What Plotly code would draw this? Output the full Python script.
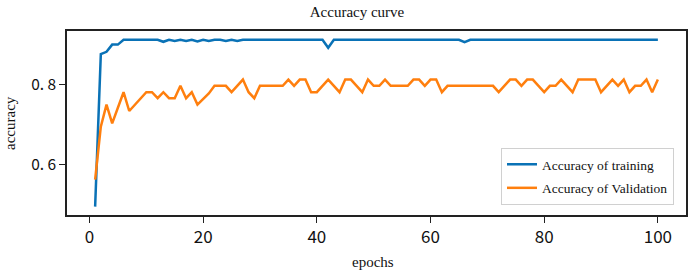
import plotly.graph_objects as go

epochs = list(range(1, 101))

train_acc = [
    0.495, 0.876, 0.882, 0.900, 0.900, 0.912, 0.912, 0.912, 0.912, 0.912,
    0.912, 0.912, 0.907, 0.912, 0.909, 0.912, 0.909, 0.912, 0.908, 0.912,
    0.909, 0.912, 0.912, 0.909, 0.912, 0.909, 0.912, 0.912, 0.912, 0.912,
    0.912, 0.912, 0.912, 0.912, 0.912, 0.912, 0.912, 0.912, 0.912, 0.912,
    0.912, 0.892, 0.912, 0.912, 0.912, 0.912, 0.912, 0.912, 0.912, 0.912,
    0.912, 0.912, 0.912, 0.912, 0.912, 0.912, 0.912, 0.912, 0.912, 0.912,
    0.912, 0.912, 0.912, 0.912, 0.912, 0.906, 0.912, 0.912, 0.912, 0.912,
    0.912, 0.912, 0.912, 0.912, 0.912, 0.912, 0.912, 0.912, 0.912, 0.912,
    0.912, 0.912, 0.912, 0.912, 0.912, 0.912, 0.912, 0.912, 0.912, 0.912,
    0.912, 0.912, 0.912, 0.912, 0.912, 0.912, 0.912, 0.912, 0.912, 0.912,
]

val_acc = [
    0.5625, 0.695, 0.750, 0.703, 0.742, 0.781, 0.734, 0.750, 0.766, 0.781,
    0.781, 0.766, 0.781, 0.766, 0.766, 0.797, 0.766, 0.781, 0.750, 0.763,
    0.778, 0.797, 0.797, 0.797, 0.781, 0.797, 0.8125, 0.781, 0.766, 0.797,
    0.797, 0.797, 0.797, 0.797, 0.8125, 0.797, 0.8125, 0.8125, 0.781, 0.781,
    0.797, 0.8125, 0.797, 0.781, 0.8125, 0.8125, 0.797, 0.781, 0.8125, 0.797,
    0.797, 0.8125, 0.797, 0.797, 0.797, 0.797, 0.8125, 0.8125, 0.797, 0.8125,
    0.8125, 0.781, 0.797, 0.797, 0.797, 0.797, 0.797, 0.797, 0.797, 0.797,
    0.797, 0.781, 0.797, 0.8125, 0.8125, 0.797, 0.8125, 0.8125, 0.797, 0.781,
    0.797, 0.797, 0.8125, 0.797, 0.781, 0.8125, 0.8125, 0.8125, 0.8125, 0.781,
    0.797, 0.8125, 0.797, 0.8125, 0.781, 0.797, 0.797, 0.8125, 0.781, 0.8125,
]

x_tick_vals = [0, 20, 40, 60, 80, 100]
x_tick_text = ["0", "20", "40", "60", "80", "100"]
y_tick_vals = [0.6, 0.8]
y_tick_text = ["0. 6", "0. 8"]

series_names = ["Accuracy of training", "Accuracy of Validation"]
series_colors = ["#0a72b6", "#ff7f0e"]

W, H = 692, 273
plot_left, plot_right, plot_top, plot_bottom = 67, 686, 31, 215
L = plot_left
R = W - plot_right
T = plot_top
B = H - plot_bottom
pw, ph = W - L - R, H - T - B


def px_to_paper(xw, yw):
    return (xw - plot_left) / pw, (plot_bottom - yw) / ph


fig = go.Figure()
fig.add_trace(go.Scatter(x=epochs, y=train_acc, mode="lines", name=series_names[0],
                         legendgroup="g1",
                         line=dict(color=series_colors[0], width=2.5)))
fig.add_trace(go.Scatter(x=epochs, y=val_acc, mode="lines", name=series_names[1],
                         legendgroup="g2",
                         line=dict(color=series_colors[1], width=2.5)))

serif = "Liberation Serif, Times New Roman, serif"
sans = "Noto Sans CJK SC, DejaVu Sans, sans-serif"

lx, ly = px_to_paper(501, 205)
ex, ey = px_to_paper(373, 262)
ax_, ay_ = px_to_paper(10, 123)

fig.update_layout(
    width=W, height=H,
    margin=dict(l=L, r=R, t=T, b=B, pad=0),
    paper_bgcolor="white", plot_bgcolor="white",
    showlegend=True,
    legend=dict(
        x=lx, y=ly, xanchor="left", yanchor="bottom",
        bgcolor="white", bordercolor="#d0d0d0", borderwidth=1,
        font=dict(family=serif, size=13.5, color="#111"),
        itemwidth=30, tracegroupgap=3,
    ),
    title=dict(text="Accuracy curve", x=357 / W, xref="container", xanchor="center",
               y=1 - 12 / H, yref="container", yanchor="middle",
               font=dict(family=serif, size=15, color="#111")),
    xaxis=dict(
        range=[-3.95, 104.95], tickvals=x_tick_vals, ticktext=x_tick_text,
        showgrid=False, zeroline=False, ticks="outside", ticklen=6, tickwidth=1.2,
        tickcolor="#222", showline=True, linecolor="#222", linewidth=1.5, mirror=True,
        tickfont=dict(family=sans, size=17, color="#111"), automargin=False,
    ),
    yaxis=dict(
        range=[0.474, 0.934], tickvals=y_tick_vals, ticktext=y_tick_text,
        showgrid=False, zeroline=False, ticks="outside", ticklen=6, tickwidth=1.2,
        tickcolor="#222", showline=True, linecolor="#222", linewidth=1.5, mirror=True,
        tickfont=dict(family=sans, size=15.5, color="#111"), automargin=False,
    ),
    annotations=[
        dict(text="epochs", x=ex, y=ey, xref="paper", yref="paper",
             showarrow=False, xanchor="center", yanchor="middle",
             font=dict(family=serif, size=15, color="#111")),
        dict(text="accuracy", x=ax_, y=ay_, xref="paper", yref="paper",
             showarrow=False, textangle=-90, xanchor="center", yanchor="middle",
             font=dict(family=serif, size=15, color="#111")),
    ],
)

fig.write_html(
    "out.html",
    config={"displayModeBar": False},
    post_script="document.body.style.margin='0';document.body.style.overflow='hidden';",
)
